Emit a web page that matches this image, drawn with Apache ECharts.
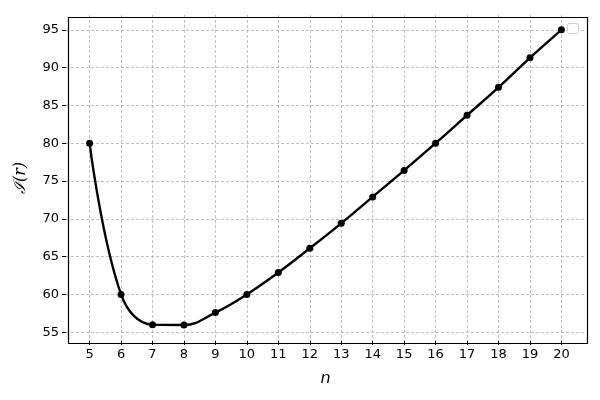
<!DOCTYPE html>
<html><head><meta charset="utf-8">
<script src="https://cdn.jsdelivr.net/npm/echarts@6/dist/echarts.min.js"></script>
<style>html,body{margin:0;padding:0;background:#fff}#c{width:600px;height:400px}</style>
</head><body><div id="c"></div>
<script>
const nValues = [5,6,7,8,9,10,11,12,13,14,15,16,17,18,19,20];
const iValues = [80.0,60.0,56.0,55.95,57.6,60.0,62.9,66.1,69.4,72.9,76.4,80.0,83.7,87.4,91.3,95.0];
const yTicks = [55,60,65,70,75,80,85,90,95];

const chart = echarts.init(document.getElementById('c'), null, {renderer:'canvas'});
const data = nValues.map((n,i)=>[n,iValues[i]]);
const grid = {left:66,right:15,top:15,bottom:59};
const labelStyle = {color:'#000',fontSize:13,fontFamily:'DejaVu Sans',margin:7};
const tickStyle = {show:true,inside:false,length:4,lineStyle:{color:'#000',width:1}};
const gridLine = {show:true,lineStyle:{color:'#b0b0b0',type:[3,2],width:0.8}};
chart.setOption({
  animation:false,
  grid:grid,
  xAxis:{type:'value',min:4.25,max:20.75,
    name:'n',nameLocation:'middle',nameGap:30,
    nameTextStyle:{fontFamily:'DejaVu Sans',fontStyle:'italic',fontSize:16,color:'#000'},
    axisLine:{show:false},
    axisLabel:Object.assign({customValues:nValues},labelStyle),
    axisTick:Object.assign({customValues:nValues},tickStyle),
    splitLine:gridLine
  },
  yAxis:{type:'value',min:53.84,max:96.96,
    name:'ℐ(r)',nameLocation:'middle',nameGap:37,
    nameTextStyle:{fontFamily:'DejaVu Serif',fontStyle:'italic',fontSize:16,color:'#000'},
    axisLine:{show:false},
    axisLabel:Object.assign({customValues:yTicks},labelStyle),
    axisTick:Object.assign({customValues:yTicks},tickStyle),
    splitLine:gridLine
  },
  series:[{
    type:'line',data:data,smooth:0.4,smoothConstraint:false,smoothMonotone:'none',
    symbol:'circle',symbolSize:7,
    lineStyle:{color:'#000',width:2.4},
    itemStyle:{color:'#000'},
    z:3
  }],
  graphic:[
    {type:'rect',left:66,top:15,shape:{width:519,height:326},style:{fill:'none',stroke:'#000',lineWidth:1.2},z:10,silent:true},
    {type:'rect',left:567,top:23,shape:{width:11,height:10,r:2},style:{fill:'rgba(255,255,255,0.8)',stroke:'#d0d0d0',lineWidth:1},z:10,silent:true}
  ]
});
</script></body></html>
